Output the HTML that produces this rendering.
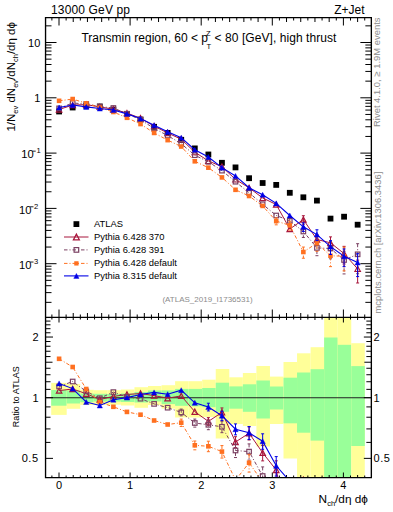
<!DOCTYPE html>
<html><head><meta charset="utf-8"><style>
html,body{margin:0;padding:0;background:#fff;}
body{width:393px;height:512px;position:relative;overflow:hidden;font-family:"Liberation Sans",sans-serif;}
svg{position:absolute;left:0;top:0;}
.t{position:absolute;white-space:nowrap;line-height:1;color:#000;}
</style></head><body>
<svg width="393" height="512" viewBox="0 0 393 512">
<defs><clipPath id="cu"><rect x="45.5" y="17.5" width="326" height="300"/></clipPath><clipPath id="cr"><rect x="45.5" y="317.5" width="326" height="160"/></clipPath></defs>
<g clip-path="url(#cr)">
<rect x="51.20" y="382.90" width="15.50" height="32.00" fill="#ffff99"/>
<rect x="51.20" y="390.00" width="15.50" height="15.70" fill="#99ff99"/>
<rect x="66.70" y="384.00" width="13.55" height="24.80" fill="#ffff99"/>
<rect x="66.70" y="390.50" width="13.55" height="13.00" fill="#99ff99"/>
<rect x="80.25" y="389.80" width="13.55" height="15.20" fill="#ffff99"/>
<rect x="80.25" y="393.50" width="13.55" height="8.70" fill="#99ff99"/>
<rect x="93.80" y="390.20" width="13.55" height="14.60" fill="#ffff99"/>
<rect x="93.80" y="393.80" width="13.55" height="7.70" fill="#99ff99"/>
<rect x="107.35" y="390.20" width="13.55" height="14.50" fill="#ffff99"/>
<rect x="107.35" y="394.00" width="13.55" height="7.60" fill="#99ff99"/>
<rect x="120.90" y="389.50" width="13.55" height="16.00" fill="#ffff99"/>
<rect x="120.90" y="393.50" width="13.55" height="8.50" fill="#99ff99"/>
<rect x="134.45" y="387.20" width="13.55" height="20.60" fill="#ffff99"/>
<rect x="134.45" y="392.00" width="13.55" height="10.50" fill="#99ff99"/>
<rect x="148.00" y="386.00" width="13.55" height="19.00" fill="#ffff99"/>
<rect x="148.00" y="390.50" width="13.55" height="11.00" fill="#99ff99"/>
<rect x="161.55" y="385.20" width="13.55" height="23.40" fill="#ffff99"/>
<rect x="161.55" y="390.40" width="13.55" height="13.70" fill="#99ff99"/>
<rect x="175.10" y="381.20" width="13.55" height="36.30" fill="#ffff99"/>
<rect x="175.10" y="388.90" width="13.55" height="16.90" fill="#99ff99"/>
<rect x="188.65" y="381.20" width="13.55" height="36.30" fill="#ffff99"/>
<rect x="188.65" y="388.90" width="13.55" height="17.40" fill="#99ff99"/>
<rect x="202.20" y="379.70" width="13.55" height="37.30" fill="#ffff99"/>
<rect x="202.20" y="388.00" width="13.55" height="19.20" fill="#99ff99"/>
<rect x="215.75" y="369.00" width="13.55" height="69.50" fill="#ffff99"/>
<rect x="215.75" y="382.70" width="13.55" height="29.10" fill="#99ff99"/>
<rect x="229.30" y="377.30" width="13.55" height="46.70" fill="#ffff99"/>
<rect x="229.30" y="386.40" width="13.55" height="22.30" fill="#99ff99"/>
<rect x="242.85" y="373.00" width="13.55" height="53.00" fill="#ffff99"/>
<rect x="242.85" y="384.30" width="13.55" height="27.50" fill="#99ff99"/>
<rect x="256.40" y="366.00" width="13.55" height="80.50" fill="#ffff99"/>
<rect x="256.40" y="380.50" width="13.55" height="38.00" fill="#99ff99"/>
<rect x="269.95" y="376.60" width="13.55" height="47.40" fill="#ffff99"/>
<rect x="269.95" y="386.50" width="13.55" height="23.00" fill="#99ff99"/>
<rect x="283.50" y="362.00" width="13.55" height="96.50" fill="#ffff99"/>
<rect x="283.50" y="377.70" width="13.55" height="45.60" fill="#99ff99"/>
<rect x="297.05" y="353.30" width="13.55" height="146.70" fill="#ffff99"/>
<rect x="297.05" y="372.50" width="13.55" height="60.20" fill="#99ff99"/>
<rect x="310.60" y="347.20" width="13.55" height="152.80" fill="#ffff99"/>
<rect x="310.60" y="369.20" width="13.55" height="71.40" fill="#99ff99"/>
<rect x="324.15" y="300.00" width="13.55" height="200.00" fill="#ffff99"/>
<rect x="324.15" y="337.50" width="13.55" height="162.50" fill="#99ff99"/>
<rect x="337.70" y="300.00" width="13.55" height="200.00" fill="#ffff99"/>
<rect x="337.70" y="344.80" width="13.55" height="155.20" fill="#99ff99"/>
<rect x="351.25" y="343.20" width="13.55" height="156.80" fill="#ffff99"/>
<rect x="351.25" y="366.10" width="13.55" height="79.90" fill="#99ff99"/>
</g>
<line x1="45.5" y1="397.7" x2="371" y2="397.7" stroke="#222" stroke-width="1.1"/>
<path d="M51.89 17.5v3M51.89 317.5v-3M51.89 317.5v2M51.89 477.5v-2M59.00 17.5v8M59.00 317.5v-8M59.00 317.5v5M59.00 477.5v-5M66.11 17.5v3M66.11 317.5v-3M66.11 317.5v2M66.11 477.5v-2M73.22 17.5v4.5M73.22 317.5v-4.5M73.22 317.5v2.5M73.22 477.5v-2.5M80.33 17.5v3M80.33 317.5v-3M80.33 317.5v2M80.33 477.5v-2M87.44 17.5v4.5M87.44 317.5v-4.5M87.44 317.5v2.5M87.44 477.5v-2.5M94.55 17.5v3M94.55 317.5v-3M94.55 317.5v2M94.55 477.5v-2M101.66 17.5v4.5M101.66 317.5v-4.5M101.66 317.5v2.5M101.66 477.5v-2.5M108.77 17.5v3M108.77 317.5v-3M108.77 317.5v2M108.77 477.5v-2M115.88 17.5v4.5M115.88 317.5v-4.5M115.88 317.5v2.5M115.88 477.5v-2.5M122.99 17.5v3M122.99 317.5v-3M122.99 317.5v2M122.99 477.5v-2M130.10 17.5v8M130.10 317.5v-8M130.10 317.5v5M130.10 477.5v-5M137.21 17.5v3M137.21 317.5v-3M137.21 317.5v2M137.21 477.5v-2M144.32 17.5v4.5M144.32 317.5v-4.5M144.32 317.5v2.5M144.32 477.5v-2.5M151.43 17.5v3M151.43 317.5v-3M151.43 317.5v2M151.43 477.5v-2M158.54 17.5v4.5M158.54 317.5v-4.5M158.54 317.5v2.5M158.54 477.5v-2.5M165.65 17.5v3M165.65 317.5v-3M165.65 317.5v2M165.65 477.5v-2M172.76 17.5v4.5M172.76 317.5v-4.5M172.76 317.5v2.5M172.76 477.5v-2.5M179.87 17.5v3M179.87 317.5v-3M179.87 317.5v2M179.87 477.5v-2M186.98 17.5v4.5M186.98 317.5v-4.5M186.98 317.5v2.5M186.98 477.5v-2.5M194.09 17.5v3M194.09 317.5v-3M194.09 317.5v2M194.09 477.5v-2M201.20 17.5v8M201.20 317.5v-8M201.20 317.5v5M201.20 477.5v-5M208.31 17.5v3M208.31 317.5v-3M208.31 317.5v2M208.31 477.5v-2M215.42 17.5v4.5M215.42 317.5v-4.5M215.42 317.5v2.5M215.42 477.5v-2.5M222.53 17.5v3M222.53 317.5v-3M222.53 317.5v2M222.53 477.5v-2M229.64 17.5v4.5M229.64 317.5v-4.5M229.64 317.5v2.5M229.64 477.5v-2.5M236.75 17.5v3M236.75 317.5v-3M236.75 317.5v2M236.75 477.5v-2M243.86 17.5v4.5M243.86 317.5v-4.5M243.86 317.5v2.5M243.86 477.5v-2.5M250.97 17.5v3M250.97 317.5v-3M250.97 317.5v2M250.97 477.5v-2M258.08 17.5v4.5M258.08 317.5v-4.5M258.08 317.5v2.5M258.08 477.5v-2.5M265.19 17.5v3M265.19 317.5v-3M265.19 317.5v2M265.19 477.5v-2M272.30 17.5v8M272.30 317.5v-8M272.30 317.5v5M272.30 477.5v-5M279.41 17.5v3M279.41 317.5v-3M279.41 317.5v2M279.41 477.5v-2M286.52 17.5v4.5M286.52 317.5v-4.5M286.52 317.5v2.5M286.52 477.5v-2.5M293.63 17.5v3M293.63 317.5v-3M293.63 317.5v2M293.63 477.5v-2M300.74 17.5v4.5M300.74 317.5v-4.5M300.74 317.5v2.5M300.74 477.5v-2.5M307.85 17.5v3M307.85 317.5v-3M307.85 317.5v2M307.85 477.5v-2M314.96 17.5v4.5M314.96 317.5v-4.5M314.96 317.5v2.5M314.96 477.5v-2.5M322.07 17.5v3M322.07 317.5v-3M322.07 317.5v2M322.07 477.5v-2M329.18 17.5v4.5M329.18 317.5v-4.5M329.18 317.5v2.5M329.18 477.5v-2.5M336.29 17.5v3M336.29 317.5v-3M336.29 317.5v2M336.29 477.5v-2M343.40 17.5v8M343.40 317.5v-8M343.40 317.5v5M343.40 477.5v-5M350.51 17.5v3M350.51 317.5v-3M350.51 317.5v2M350.51 477.5v-2M357.62 17.5v4.5M357.62 317.5v-4.5M357.62 317.5v2.5M357.62 477.5v-2.5M364.73 17.5v3M364.73 317.5v-3M364.73 317.5v2M364.73 477.5v-2M45.5 302.35h6M371.35 302.35h-6M45.5 292.62h6M371.35 292.62h-6M45.5 285.71h6M371.35 285.71h-6M45.5 280.35h6M371.35 280.35h-6M45.5 275.97h6M371.35 275.97h-6M45.5 272.27h6M371.35 272.27h-6M45.5 269.06h6M371.35 269.06h-6M45.5 266.23h6M371.35 266.23h-6M45.5 263.70h11M371.35 263.70h-11M45.5 247.05h6M371.35 247.05h-6M45.5 237.32h6M371.35 237.32h-6M45.5 230.41h6M371.35 230.41h-6M45.5 225.05h6M371.35 225.05h-6M45.5 220.67h6M371.35 220.67h-6M45.5 216.97h6M371.35 216.97h-6M45.5 213.76h6M371.35 213.76h-6M45.5 210.93h6M371.35 210.93h-6M45.5 208.40h11M371.35 208.40h-11M45.5 191.75h6M371.35 191.75h-6M45.5 182.02h6M371.35 182.02h-6M45.5 175.11h6M371.35 175.11h-6M45.5 169.75h6M371.35 169.75h-6M45.5 165.37h6M371.35 165.37h-6M45.5 161.67h6M371.35 161.67h-6M45.5 158.46h6M371.35 158.46h-6M45.5 155.63h6M371.35 155.63h-6M45.5 153.10h11M371.35 153.10h-11M45.5 136.45h6M371.35 136.45h-6M45.5 126.72h6M371.35 126.72h-6M45.5 119.81h6M371.35 119.81h-6M45.5 114.45h6M371.35 114.45h-6M45.5 110.07h6M371.35 110.07h-6M45.5 106.37h6M371.35 106.37h-6M45.5 103.16h6M371.35 103.16h-6M45.5 100.33h6M371.35 100.33h-6M45.5 97.80h11M371.35 97.80h-11M45.5 81.15h6M371.35 81.15h-6M45.5 71.42h6M371.35 71.42h-6M45.5 64.51h6M371.35 64.51h-6M45.5 59.15h6M371.35 59.15h-6M45.5 54.77h6M371.35 54.77h-6M45.5 51.07h6M371.35 51.07h-6M45.5 47.86h6M371.35 47.86h-6M45.5 45.03h6M371.35 45.03h-6M45.5 42.50h11M371.35 42.50h-11M45.5 25.85h6M371.35 25.85h-6M45.5 458.36h7.5M371.35 458.36h-7.5M45.5 442.40h5M371.35 442.40h-5M45.5 428.91h5M371.35 428.91h-5M45.5 417.23h5M371.35 417.23h-5M45.5 406.92h5M371.35 406.92h-5M45.5 397.70h7.5M371.35 397.70h-7.5M45.5 389.36h5M371.35 389.36h-5M45.5 381.74h5M371.35 381.74h-5M45.5 374.74h5M371.35 374.74h-5M45.5 368.26h5M371.35 368.26h-5M45.5 362.22h7M371.35 362.22h-7M45.5 356.57h5M371.35 356.57h-5M45.5 351.26h5M371.35 351.26h-5M45.5 346.26h5M371.35 346.26h-5M45.5 341.53h5M371.35 341.53h-5M45.5 337.04h7.5M371.35 337.04h-7.5M45.5 332.77h5M371.35 332.77h-5M45.5 328.70h5M371.35 328.70h-5M45.5 324.81h5M371.35 324.81h-5M45.5 321.09h5M371.35 321.09h-5M45.5 317.52h5M371.35 317.52h-5" stroke="#000" stroke-width="1" fill="none"/>
<g clip-path="url(#cu)">
<rect x="56.20" y="108.60" width="5.8" height="5.8" fill="#000"/>
<rect x="69.77" y="104.60" width="5.8" height="5.8" fill="#000"/>
<rect x="83.34" y="102.90" width="5.8" height="5.8" fill="#000"/>
<rect x="96.91" y="103.60" width="5.8" height="5.8" fill="#000"/>
<rect x="110.48" y="106.70" width="5.8" height="5.8" fill="#000"/>
<rect x="124.05" y="111.10" width="5.8" height="5.8" fill="#000"/>
<rect x="137.62" y="116.60" width="5.8" height="5.8" fill="#000"/>
<rect x="151.19" y="123.90" width="5.8" height="5.8" fill="#000"/>
<rect x="164.76" y="130.00" width="5.8" height="5.8" fill="#000"/>
<rect x="178.33" y="136.90" width="5.8" height="5.8" fill="#000"/>
<rect x="191.90" y="145.50" width="5.8" height="5.8" fill="#000"/>
<rect x="205.47" y="151.60" width="5.8" height="5.8" fill="#000"/>
<rect x="219.04" y="159.90" width="5.8" height="5.8" fill="#000"/>
<rect x="232.61" y="164.50" width="5.8" height="5.8" fill="#000"/>
<rect x="246.18" y="175.30" width="5.8" height="5.8" fill="#000"/>
<rect x="259.75" y="180.10" width="5.8" height="5.8" fill="#000"/>
<rect x="273.32" y="182.00" width="5.8" height="5.8" fill="#000"/>
<rect x="286.89" y="189.90" width="5.8" height="5.8" fill="#000"/>
<rect x="300.46" y="194.40" width="5.8" height="5.8" fill="#000"/>
<rect x="314.03" y="197.70" width="5.8" height="5.8" fill="#000"/>
<rect x="327.60" y="215.70" width="5.8" height="5.8" fill="#000"/>
<rect x="341.17" y="213.80" width="5.8" height="5.8" fill="#000"/>
<rect x="354.74" y="221.80" width="5.8" height="5.8" fill="#000"/>
<polyline points="59.10,109.48 72.67,105.05 86.24,104.63 99.81,106.91 113.38,109.16 126.95,113.05 140.52,118.27 154.09,126.15 167.66,132.95 181.23,139.23 194.80,152.14 208.37,160.88 221.94,166.73 235.51,179.40 249.08,187.80 262.65,197.94 276.22,204.53 289.79,229.00 303.36,219.60 316.93,239.50 330.50,242.80 344.07,253.60 357.64,268.90" fill="none" stroke="#a8163c" stroke-width="1.0"/>


















<path d="M303.36 215.71V224.25" stroke="#a8163c" stroke-width="1" fill="none"/><path d="M301.86 215.71h3.0M301.86 224.25h3.0" stroke="#a8163c" stroke-width="1" fill="none"/>
<path d="M316.93 234.69V245.52" stroke="#a8163c" stroke-width="1" fill="none"/><path d="M315.43 234.69h3.0M315.43 245.52h3.0" stroke="#a8163c" stroke-width="1" fill="none"/>
<path d="M330.50 236.88V250.67" stroke="#a8163c" stroke-width="1" fill="none"/><path d="M329.00 236.88h3.0M329.00 250.67h3.0" stroke="#a8163c" stroke-width="1" fill="none"/>
<path d="M344.07 246.35V264.02" stroke="#a8163c" stroke-width="1" fill="none"/><path d="M342.57 246.35h3.0M342.57 264.02h3.0" stroke="#a8163c" stroke-width="1" fill="none"/>
<path d="M357.64 260.08V282.98" stroke="#a8163c" stroke-width="1" fill="none"/><path d="M356.14 260.08h3.0M356.14 282.98h3.0" stroke="#a8163c" stroke-width="1" fill="none"/>
<path d="M56.35 112.09L59.10 106.87L61.85 112.09Z" fill="none" stroke="#a8163c" stroke-width="1.2"/>
<path d="M69.92 107.66L72.67 102.43L75.42 107.66Z" fill="none" stroke="#a8163c" stroke-width="1.2"/>
<path d="M83.49 107.24L86.24 102.01L88.99 107.24Z" fill="none" stroke="#a8163c" stroke-width="1.2"/>
<path d="M97.06 109.52L99.81 104.30L102.56 109.52Z" fill="none" stroke="#a8163c" stroke-width="1.2"/>
<path d="M110.63 111.78L113.38 106.55L116.13 111.78Z" fill="none" stroke="#a8163c" stroke-width="1.2"/>
<path d="M124.20 115.66L126.95 110.43L129.70 115.66Z" fill="none" stroke="#a8163c" stroke-width="1.2"/>
<path d="M137.77 120.89L140.52 115.66L143.27 120.89Z" fill="none" stroke="#a8163c" stroke-width="1.2"/>
<path d="M151.34 128.76L154.09 123.53L156.84 128.76Z" fill="none" stroke="#a8163c" stroke-width="1.2"/>
<path d="M164.91 135.57L167.66 130.34L170.41 135.57Z" fill="none" stroke="#a8163c" stroke-width="1.2"/>
<path d="M178.48 141.84L181.23 136.61L183.98 141.84Z" fill="none" stroke="#a8163c" stroke-width="1.2"/>
<path d="M192.05 154.75L194.80 149.52L197.55 154.75Z" fill="none" stroke="#a8163c" stroke-width="1.2"/>
<path d="M205.62 163.49L208.37 158.27L211.12 163.49Z" fill="none" stroke="#a8163c" stroke-width="1.2"/>
<path d="M219.19 169.34L221.94 164.11L224.69 169.34Z" fill="none" stroke="#a8163c" stroke-width="1.2"/>
<path d="M232.76 182.01L235.51 176.79L238.26 182.01Z" fill="none" stroke="#a8163c" stroke-width="1.2"/>
<path d="M246.33 190.41L249.08 185.19L251.83 190.41Z" fill="none" stroke="#a8163c" stroke-width="1.2"/>
<path d="M259.90 200.56L262.65 195.33L265.40 200.56Z" fill="none" stroke="#a8163c" stroke-width="1.2"/>
<path d="M273.47 207.15L276.22 201.92L278.97 207.15Z" fill="none" stroke="#a8163c" stroke-width="1.2"/>
<path d="M287.04 231.61L289.79 226.39L292.54 231.61Z" fill="none" stroke="#a8163c" stroke-width="1.2"/>
<path d="M300.61 222.21L303.36 216.99L306.11 222.21Z" fill="none" stroke="#a8163c" stroke-width="1.2"/>
<path d="M314.18 242.11L316.93 236.89L319.68 242.11Z" fill="none" stroke="#a8163c" stroke-width="1.2"/>
<path d="M327.75 245.41L330.50 240.19L333.25 245.41Z" fill="none" stroke="#a8163c" stroke-width="1.2"/>
<path d="M341.32 256.21L344.07 250.99L346.82 256.21Z" fill="none" stroke="#a8163c" stroke-width="1.2"/>
<path d="M354.89 271.51L357.64 266.29L360.39 271.51Z" fill="none" stroke="#a8163c" stroke-width="1.2"/>
<polyline points="59.10,108.36 72.67,103.00 86.24,104.00 99.81,106.55 113.38,107.99 126.95,113.73 140.52,119.69 154.09,128.41 167.66,135.55 181.23,143.73 194.80,155.22 208.37,161.81 221.94,170.65 235.51,181.72 249.08,192.82 262.65,204.27 276.22,215.50 289.79,220.80 303.36,231.50 316.93,247.90 330.50,248.50 344.07,260.00 357.64,254.30" fill="none" stroke="#7b4062" stroke-width="1.0" stroke-dasharray="3.5,2,1,2"/>

















<path d="M289.79 216.93V225.41" stroke="#7b4062" stroke-width="1" fill="none" stroke-dasharray="3.5,2,1,2"/><path d="M288.29 216.93h3.0M288.29 225.41h3.0" stroke="#7b4062" stroke-width="1" fill="none"/>
<path d="M303.36 226.72V237.47" stroke="#7b4062" stroke-width="1" fill="none" stroke-dasharray="3.5,2,1,2"/><path d="M301.86 226.72h3.0M301.86 237.47h3.0" stroke="#7b4062" stroke-width="1" fill="none"/>
<path d="M316.93 242.02V255.70" stroke="#7b4062" stroke-width="1" fill="none" stroke-dasharray="3.5,2,1,2"/><path d="M315.43 242.02h3.0M315.43 255.70h3.0" stroke="#7b4062" stroke-width="1" fill="none"/>
<path d="M330.50 241.30V258.82" stroke="#7b4062" stroke-width="1" fill="none" stroke-dasharray="3.5,2,1,2"/><path d="M329.00 241.30h3.0M329.00 258.82h3.0" stroke="#7b4062" stroke-width="1" fill="none"/>
<path d="M344.07 251.24V273.93" stroke="#7b4062" stroke-width="1" fill="none" stroke-dasharray="3.5,2,1,2"/><path d="M342.57 251.24h3.0M342.57 273.93h3.0" stroke="#7b4062" stroke-width="1" fill="none"/>
<path d="M357.64 243.70V273.72" stroke="#7b4062" stroke-width="1" fill="none" stroke-dasharray="3.5,2,1,2"/><path d="M356.14 243.70h3.0M356.14 273.72h3.0" stroke="#7b4062" stroke-width="1" fill="none"/>
<rect x="56.85" y="106.11" width="4.5" height="4.5" fill="none" stroke="#7b4062" stroke-width="1.2"/>
<rect x="70.42" y="100.75" width="4.5" height="4.5" fill="none" stroke="#7b4062" stroke-width="1.2"/>
<rect x="83.99" y="101.75" width="4.5" height="4.5" fill="none" stroke="#7b4062" stroke-width="1.2"/>
<rect x="97.56" y="104.30" width="4.5" height="4.5" fill="none" stroke="#7b4062" stroke-width="1.2"/>
<rect x="111.13" y="105.74" width="4.5" height="4.5" fill="none" stroke="#7b4062" stroke-width="1.2"/>
<rect x="124.70" y="111.48" width="4.5" height="4.5" fill="none" stroke="#7b4062" stroke-width="1.2"/>
<rect x="138.27" y="117.44" width="4.5" height="4.5" fill="none" stroke="#7b4062" stroke-width="1.2"/>
<rect x="151.84" y="126.16" width="4.5" height="4.5" fill="none" stroke="#7b4062" stroke-width="1.2"/>
<rect x="165.41" y="133.30" width="4.5" height="4.5" fill="none" stroke="#7b4062" stroke-width="1.2"/>
<rect x="178.98" y="141.48" width="4.5" height="4.5" fill="none" stroke="#7b4062" stroke-width="1.2"/>
<rect x="192.55" y="152.97" width="4.5" height="4.5" fill="none" stroke="#7b4062" stroke-width="1.2"/>
<rect x="206.12" y="159.56" width="4.5" height="4.5" fill="none" stroke="#7b4062" stroke-width="1.2"/>
<rect x="219.69" y="168.40" width="4.5" height="4.5" fill="none" stroke="#7b4062" stroke-width="1.2"/>
<rect x="233.26" y="179.47" width="4.5" height="4.5" fill="none" stroke="#7b4062" stroke-width="1.2"/>
<rect x="246.83" y="190.57" width="4.5" height="4.5" fill="none" stroke="#7b4062" stroke-width="1.2"/>
<rect x="260.40" y="202.02" width="4.5" height="4.5" fill="none" stroke="#7b4062" stroke-width="1.2"/>
<rect x="273.97" y="213.25" width="4.5" height="4.5" fill="none" stroke="#7b4062" stroke-width="1.2"/>
<rect x="287.54" y="218.55" width="4.5" height="4.5" fill="none" stroke="#7b4062" stroke-width="1.2"/>
<rect x="301.11" y="229.25" width="4.5" height="4.5" fill="none" stroke="#7b4062" stroke-width="1.2"/>
<rect x="314.68" y="245.65" width="4.5" height="4.5" fill="none" stroke="#7b4062" stroke-width="1.2"/>
<rect x="328.25" y="246.25" width="4.5" height="4.5" fill="none" stroke="#7b4062" stroke-width="1.2"/>
<rect x="341.82" y="257.75" width="4.5" height="4.5" fill="none" stroke="#7b4062" stroke-width="1.2"/>
<rect x="355.39" y="252.05" width="4.5" height="4.5" fill="none" stroke="#7b4062" stroke-width="1.2"/>
<polyline points="59.10,100.81 72.67,99.05 86.24,103.35 99.81,107.65 113.38,112.00 126.95,117.79 140.52,124.05 154.09,132.94 167.66,140.13 181.23,146.54 194.80,161.30 208.37,167.67 221.94,177.42 235.51,189.80 249.08,196.00 262.65,205.90 276.22,221.10 289.79,225.30 303.36,252.00 316.93,243.10 330.50,255.80 344.07,256.20" fill="none" stroke="#ff7020" stroke-width="1.0" stroke-dasharray="3.5,2,1,2"/>
















<path d="M276.22 217.87V224.84" stroke="#ff7020" stroke-width="1" fill="none" stroke-dasharray="3.5,2,1,2"/><path d="M274.72 217.87h3.0M274.72 224.84h3.0" stroke="#ff7020" stroke-width="1" fill="none"/>
<path d="M289.79 221.29V230.11" stroke="#ff7020" stroke-width="1" fill="none" stroke-dasharray="3.5,2,1,2"/><path d="M288.29 221.29h3.0M288.29 230.11h3.0" stroke="#ff7020" stroke-width="1" fill="none"/>
<path d="M303.36 247.05V258.24" stroke="#ff7020" stroke-width="1" fill="none" stroke-dasharray="3.5,2,1,2"/><path d="M301.86 247.05h3.0M301.86 258.24h3.0" stroke="#ff7020" stroke-width="1" fill="none"/>
<path d="M316.93 237.02V251.27" stroke="#ff7020" stroke-width="1" fill="none" stroke-dasharray="3.5,2,1,2"/><path d="M315.43 237.02h3.0M315.43 251.27h3.0" stroke="#ff7020" stroke-width="1" fill="none"/>
<path d="M330.50 248.36V266.64" stroke="#ff7020" stroke-width="1" fill="none" stroke-dasharray="3.5,2,1,2"/><path d="M329.00 248.36h3.0M329.00 266.64h3.0" stroke="#ff7020" stroke-width="1" fill="none"/>
<path d="M344.07 247.15V270.90" stroke="#ff7020" stroke-width="1" fill="none" stroke-dasharray="3.5,2,1,2"/><path d="M342.57 247.15h3.0M342.57 270.90h3.0" stroke="#ff7020" stroke-width="1" fill="none"/>
<rect x="56.80" y="98.51" width="4.6" height="4.6" fill="#ff7020" stroke="#ff7020" stroke-width="0"/>
<rect x="70.37" y="96.75" width="4.6" height="4.6" fill="#ff7020" stroke="#ff7020" stroke-width="0"/>
<rect x="83.94" y="101.05" width="4.6" height="4.6" fill="#ff7020" stroke="#ff7020" stroke-width="0"/>
<rect x="97.51" y="105.35" width="4.6" height="4.6" fill="#ff7020" stroke="#ff7020" stroke-width="0"/>
<rect x="111.08" y="109.70" width="4.6" height="4.6" fill="#ff7020" stroke="#ff7020" stroke-width="0"/>
<rect x="124.65" y="115.49" width="4.6" height="4.6" fill="#ff7020" stroke="#ff7020" stroke-width="0"/>
<rect x="138.22" y="121.75" width="4.6" height="4.6" fill="#ff7020" stroke="#ff7020" stroke-width="0"/>
<rect x="151.79" y="130.64" width="4.6" height="4.6" fill="#ff7020" stroke="#ff7020" stroke-width="0"/>
<rect x="165.36" y="137.83" width="4.6" height="4.6" fill="#ff7020" stroke="#ff7020" stroke-width="0"/>
<rect x="178.93" y="144.24" width="4.6" height="4.6" fill="#ff7020" stroke="#ff7020" stroke-width="0"/>
<rect x="192.50" y="159.00" width="4.6" height="4.6" fill="#ff7020" stroke="#ff7020" stroke-width="0"/>
<rect x="206.07" y="165.37" width="4.6" height="4.6" fill="#ff7020" stroke="#ff7020" stroke-width="0"/>
<rect x="219.64" y="175.12" width="4.6" height="4.6" fill="#ff7020" stroke="#ff7020" stroke-width="0"/>
<rect x="233.21" y="187.50" width="4.6" height="4.6" fill="#ff7020" stroke="#ff7020" stroke-width="0"/>
<rect x="246.78" y="193.70" width="4.6" height="4.6" fill="#ff7020" stroke="#ff7020" stroke-width="0"/>
<rect x="260.35" y="203.60" width="4.6" height="4.6" fill="#ff7020" stroke="#ff7020" stroke-width="0"/>
<rect x="273.92" y="218.80" width="4.6" height="4.6" fill="#ff7020" stroke="#ff7020" stroke-width="0"/>
<rect x="287.49" y="223.00" width="4.6" height="4.6" fill="#ff7020" stroke="#ff7020" stroke-width="0"/>
<rect x="301.06" y="249.70" width="4.6" height="4.6" fill="#ff7020" stroke="#ff7020" stroke-width="0"/>
<rect x="314.63" y="240.80" width="4.6" height="4.6" fill="#ff7020" stroke="#ff7020" stroke-width="0"/>
<rect x="328.20" y="253.50" width="4.6" height="4.6" fill="#ff7020" stroke="#ff7020" stroke-width="0"/>
<rect x="341.77" y="253.90" width="4.6" height="4.6" fill="#ff7020" stroke="#ff7020" stroke-width="0"/>
<polyline points="59.10,107.52 72.67,104.94 86.24,106.89 99.81,108.55 113.38,110.06 126.95,113.89 140.52,118.55 154.09,125.27 167.66,131.86 181.23,137.67 194.80,149.71 208.37,156.95 221.94,167.63 235.51,175.91 249.08,187.69 262.65,194.78 276.22,203.39 289.79,215.50 303.36,226.80 316.93,234.60 330.50,246.60 344.07,256.20 357.64,262.50" fill="none" stroke="#0000e6" stroke-width="1.1"/>


















<path d="M303.36 222.91V231.45" stroke="#0000e6" stroke-width="1" fill="none"/><path d="M301.86 222.91h3.0M301.86 231.45h3.0" stroke="#0000e6" stroke-width="1" fill="none"/>
<path d="M316.93 229.79V240.62" stroke="#0000e6" stroke-width="1" fill="none"/><path d="M315.43 229.79h3.0M315.43 240.62h3.0" stroke="#0000e6" stroke-width="1" fill="none"/>
<path d="M330.50 240.68V254.47" stroke="#0000e6" stroke-width="1" fill="none"/><path d="M329.00 240.68h3.0M329.00 254.47h3.0" stroke="#0000e6" stroke-width="1" fill="none"/>
<path d="M344.07 248.95V266.62" stroke="#0000e6" stroke-width="1" fill="none"/><path d="M342.57 248.95h3.0M342.57 266.62h3.0" stroke="#0000e6" stroke-width="1" fill="none"/>
<path d="M357.64 253.68V276.58" stroke="#0000e6" stroke-width="1" fill="none"/><path d="M356.14 253.68h3.0M356.14 276.58h3.0" stroke="#0000e6" stroke-width="1" fill="none"/>
<path d="M56.45 110.04L59.10 105.00L61.75 110.04Z" fill="#0000e6" stroke="#0000e6" stroke-width="0.4"/>
<path d="M70.02 107.45L72.67 102.42L75.32 107.45Z" fill="#0000e6" stroke="#0000e6" stroke-width="0.4"/>
<path d="M83.59 109.41L86.24 104.37L88.89 109.41Z" fill="#0000e6" stroke="#0000e6" stroke-width="0.4"/>
<path d="M97.16 111.06L99.81 106.03L102.46 111.06Z" fill="#0000e6" stroke="#0000e6" stroke-width="0.4"/>
<path d="M110.73 112.58L113.38 107.55L116.03 112.58Z" fill="#0000e6" stroke="#0000e6" stroke-width="0.4"/>
<path d="M124.30 116.41L126.95 111.37L129.60 116.41Z" fill="#0000e6" stroke="#0000e6" stroke-width="0.4"/>
<path d="M137.87 121.06L140.52 116.03L143.17 121.06Z" fill="#0000e6" stroke="#0000e6" stroke-width="0.4"/>
<path d="M151.44 127.79L154.09 122.76L156.74 127.79Z" fill="#0000e6" stroke="#0000e6" stroke-width="0.4"/>
<path d="M165.01 134.38L167.66 129.35L170.31 134.38Z" fill="#0000e6" stroke="#0000e6" stroke-width="0.4"/>
<path d="M178.58 140.19L181.23 135.16L183.88 140.19Z" fill="#0000e6" stroke="#0000e6" stroke-width="0.4"/>
<path d="M192.15 152.23L194.80 147.19L197.45 152.23Z" fill="#0000e6" stroke="#0000e6" stroke-width="0.4"/>
<path d="M205.72 159.47L208.37 154.44L211.02 159.47Z" fill="#0000e6" stroke="#0000e6" stroke-width="0.4"/>
<path d="M219.29 170.14L221.94 165.11L224.59 170.14Z" fill="#0000e6" stroke="#0000e6" stroke-width="0.4"/>
<path d="M232.86 178.43L235.51 173.39L238.16 178.43Z" fill="#0000e6" stroke="#0000e6" stroke-width="0.4"/>
<path d="M246.43 190.21L249.08 185.17L251.73 190.21Z" fill="#0000e6" stroke="#0000e6" stroke-width="0.4"/>
<path d="M260.00 197.30L262.65 192.26L265.30 197.30Z" fill="#0000e6" stroke="#0000e6" stroke-width="0.4"/>
<path d="M273.57 205.91L276.22 200.87L278.87 205.91Z" fill="#0000e6" stroke="#0000e6" stroke-width="0.4"/>
<path d="M287.14 218.02L289.79 212.98L292.44 218.02Z" fill="#0000e6" stroke="#0000e6" stroke-width="0.4"/>
<path d="M300.71 229.32L303.36 224.28L306.01 229.32Z" fill="#0000e6" stroke="#0000e6" stroke-width="0.4"/>
<path d="M314.28 237.12L316.93 232.08L319.58 237.12Z" fill="#0000e6" stroke="#0000e6" stroke-width="0.4"/>
<path d="M327.85 249.12L330.50 244.08L333.15 249.12Z" fill="#0000e6" stroke="#0000e6" stroke-width="0.4"/>
<path d="M341.42 258.72L344.07 253.68L346.72 258.72Z" fill="#0000e6" stroke="#0000e6" stroke-width="0.4"/>
<path d="M354.99 265.02L357.64 259.98L360.29 265.02Z" fill="#0000e6" stroke="#0000e6" stroke-width="0.4"/>
</g>
<g clip-path="url(#cr)">
<polyline points="59.10,390.60 72.67,389.00 86.24,393.70 99.81,399.50 113.38,396.40 126.95,394.50 140.52,393.50 154.09,395.60 167.66,398.20 181.23,395.90 194.80,411.70 208.37,421.40 221.94,412.40 235.51,442.00 249.08,433.20 262.65,452.80 276.22,470.00 289.79,530.74 303.36,479.77 316.93,540.65 330.50,486.74 344.07,533.31 357.64,560.08" fill="none" stroke="#a8163c" stroke-width="1.0"/>











<path d="M208.37 417.63V425.34" stroke="#a8163c" stroke-width="1" fill="none"/><path d="M206.87 417.63h3.0M206.87 425.34h3.0" stroke="#a8163c" stroke-width="1" fill="none"/>
<path d="M221.94 407.93V417.11" stroke="#a8163c" stroke-width="1" fill="none"/><path d="M220.44 407.93h3.0M220.44 417.11h3.0" stroke="#a8163c" stroke-width="1" fill="none"/>
<path d="M235.51 436.71V447.63" stroke="#a8163c" stroke-width="1" fill="none"/><path d="M234.01 436.71h3.0M234.01 447.63h3.0" stroke="#a8163c" stroke-width="1" fill="none"/>
<path d="M249.08 426.94V439.95" stroke="#a8163c" stroke-width="1" fill="none"/><path d="M247.58 426.94h3.0M247.58 439.95h3.0" stroke="#a8163c" stroke-width="1" fill="none"/>
<path d="M262.65 445.40V460.89" stroke="#a8163c" stroke-width="1" fill="none"/><path d="M261.15 445.40h3.0M261.15 460.89h3.0" stroke="#a8163c" stroke-width="1" fill="none"/>
<path d="M276.22 460.80V480.28" stroke="#a8163c" stroke-width="1" fill="none"/><path d="M274.72 460.80h3.0M274.72 480.28h3.0" stroke="#a8163c" stroke-width="1" fill="none"/>
<path d="M56.35 393.21L59.10 387.99L61.85 393.21Z" fill="none" stroke="#a8163c" stroke-width="1.2"/>
<path d="M69.92 391.61L72.67 386.39L75.42 391.61Z" fill="none" stroke="#a8163c" stroke-width="1.2"/>
<path d="M83.49 396.31L86.24 391.09L88.99 396.31Z" fill="none" stroke="#a8163c" stroke-width="1.2"/>
<path d="M97.06 402.11L99.81 396.89L102.56 402.11Z" fill="none" stroke="#a8163c" stroke-width="1.2"/>
<path d="M110.63 399.01L113.38 393.79L116.13 399.01Z" fill="none" stroke="#a8163c" stroke-width="1.2"/>
<path d="M124.20 397.11L126.95 391.89L129.70 397.11Z" fill="none" stroke="#a8163c" stroke-width="1.2"/>
<path d="M137.77 396.11L140.52 390.89L143.27 396.11Z" fill="none" stroke="#a8163c" stroke-width="1.2"/>
<path d="M151.34 398.21L154.09 392.99L156.84 398.21Z" fill="none" stroke="#a8163c" stroke-width="1.2"/>
<path d="M164.91 400.81L167.66 395.59L170.41 400.81Z" fill="none" stroke="#a8163c" stroke-width="1.2"/>
<path d="M178.48 398.51L181.23 393.29L183.98 398.51Z" fill="none" stroke="#a8163c" stroke-width="1.2"/>
<path d="M192.05 414.31L194.80 409.09L197.55 414.31Z" fill="none" stroke="#a8163c" stroke-width="1.2"/>
<path d="M205.62 424.01L208.37 418.79L211.12 424.01Z" fill="none" stroke="#a8163c" stroke-width="1.2"/>
<path d="M219.19 415.01L221.94 409.79L224.69 415.01Z" fill="none" stroke="#a8163c" stroke-width="1.2"/>
<path d="M232.76 444.61L235.51 439.39L238.26 444.61Z" fill="none" stroke="#a8163c" stroke-width="1.2"/>
<path d="M246.33 435.81L249.08 430.59L251.83 435.81Z" fill="none" stroke="#a8163c" stroke-width="1.2"/>
<path d="M259.90 455.41L262.65 450.19L265.40 455.41Z" fill="none" stroke="#a8163c" stroke-width="1.2"/>
<path d="M273.47 472.61L276.22 467.39L278.97 472.61Z" fill="none" stroke="#a8163c" stroke-width="1.2"/>
<path d="M287.04 533.36L289.79 528.13L292.54 533.36Z" fill="none" stroke="#a8163c" stroke-width="1.2"/>
<path d="M300.61 482.39L303.36 477.16L306.11 482.39Z" fill="none" stroke="#a8163c" stroke-width="1.2"/>
<path d="M314.18 543.26L316.93 538.03L319.68 543.26Z" fill="none" stroke="#a8163c" stroke-width="1.2"/>
<path d="M327.75 489.35L330.50 484.13L333.25 489.35Z" fill="none" stroke="#a8163c" stroke-width="1.2"/>
<path d="M341.32 535.92L344.07 530.70L346.82 535.92Z" fill="none" stroke="#a8163c" stroke-width="1.2"/>
<path d="M354.89 562.69L357.64 557.47L360.39 562.69Z" fill="none" stroke="#a8163c" stroke-width="1.2"/>
<polyline points="59.10,386.50 72.67,381.50 86.24,391.40 99.81,398.20 113.38,392.10 126.95,397.00 140.52,398.70 154.09,403.90 167.66,407.70 181.23,412.40 194.80,423.00 208.37,424.80 221.94,426.80 235.51,450.50 249.08,451.60 262.65,476.00 276.22,510.21 289.79,500.68 303.36,523.41 316.93,571.45 330.50,507.64 344.07,556.78 357.64,506.54" fill="none" stroke="#7b4062" stroke-width="1.0" stroke-dasharray="3.5,2,1,2"/>









<path d="M181.23 409.09V415.84" stroke="#7b4062" stroke-width="1" fill="none" stroke-dasharray="3.5,2,1,2"/><path d="M179.73 409.09h3.0M179.73 415.84h3.0" stroke="#7b4062" stroke-width="1" fill="none"/>
<path d="M194.80 419.07V427.11" stroke="#7b4062" stroke-width="1" fill="none" stroke-dasharray="3.5,2,1,2"/><path d="M193.30 419.07h3.0M193.30 427.11h3.0" stroke="#7b4062" stroke-width="1" fill="none"/>
<path d="M208.37 420.15V429.71" stroke="#7b4062" stroke-width="1" fill="none" stroke-dasharray="3.5,2,1,2"/><path d="M206.87 420.15h3.0M206.87 429.71h3.0" stroke="#7b4062" stroke-width="1" fill="none"/>
<path d="M221.94 421.29V432.68" stroke="#7b4062" stroke-width="1" fill="none" stroke-dasharray="3.5,2,1,2"/><path d="M220.44 421.29h3.0M220.44 432.68h3.0" stroke="#7b4062" stroke-width="1" fill="none"/>
<path d="M235.51 443.98V457.54" stroke="#7b4062" stroke-width="1" fill="none" stroke-dasharray="3.5,2,1,2"/><path d="M234.01 443.98h3.0M234.01 457.54h3.0" stroke="#7b4062" stroke-width="1" fill="none"/>
<path d="M249.08 443.90V460.05" stroke="#7b4062" stroke-width="1" fill="none" stroke-dasharray="3.5,2,1,2"/><path d="M247.58 443.90h3.0M247.58 460.05h3.0" stroke="#7b4062" stroke-width="1" fill="none"/>
<path d="M262.65 466.91V486.15" stroke="#7b4062" stroke-width="1" fill="none" stroke-dasharray="3.5,2,1,2"/><path d="M261.15 466.91h3.0M261.15 486.15h3.0" stroke="#7b4062" stroke-width="1" fill="none"/>
<rect x="56.85" y="384.25" width="4.5" height="4.5" fill="none" stroke="#7b4062" stroke-width="1.2"/>
<rect x="70.42" y="379.25" width="4.5" height="4.5" fill="none" stroke="#7b4062" stroke-width="1.2"/>
<rect x="83.99" y="389.15" width="4.5" height="4.5" fill="none" stroke="#7b4062" stroke-width="1.2"/>
<rect x="97.56" y="395.95" width="4.5" height="4.5" fill="none" stroke="#7b4062" stroke-width="1.2"/>
<rect x="111.13" y="389.85" width="4.5" height="4.5" fill="none" stroke="#7b4062" stroke-width="1.2"/>
<rect x="124.70" y="394.75" width="4.5" height="4.5" fill="none" stroke="#7b4062" stroke-width="1.2"/>
<rect x="138.27" y="396.45" width="4.5" height="4.5" fill="none" stroke="#7b4062" stroke-width="1.2"/>
<rect x="151.84" y="401.65" width="4.5" height="4.5" fill="none" stroke="#7b4062" stroke-width="1.2"/>
<rect x="165.41" y="405.45" width="4.5" height="4.5" fill="none" stroke="#7b4062" stroke-width="1.2"/>
<rect x="178.98" y="410.15" width="4.5" height="4.5" fill="none" stroke="#7b4062" stroke-width="1.2"/>
<rect x="192.55" y="420.75" width="4.5" height="4.5" fill="none" stroke="#7b4062" stroke-width="1.2"/>
<rect x="206.12" y="422.55" width="4.5" height="4.5" fill="none" stroke="#7b4062" stroke-width="1.2"/>
<rect x="219.69" y="424.55" width="4.5" height="4.5" fill="none" stroke="#7b4062" stroke-width="1.2"/>
<rect x="233.26" y="448.25" width="4.5" height="4.5" fill="none" stroke="#7b4062" stroke-width="1.2"/>
<rect x="246.83" y="449.35" width="4.5" height="4.5" fill="none" stroke="#7b4062" stroke-width="1.2"/>
<rect x="260.40" y="473.75" width="4.5" height="4.5" fill="none" stroke="#7b4062" stroke-width="1.2"/>
<rect x="273.97" y="507.96" width="4.5" height="4.5" fill="none" stroke="#7b4062" stroke-width="1.2"/>
<rect x="287.54" y="498.43" width="4.5" height="4.5" fill="none" stroke="#7b4062" stroke-width="1.2"/>
<rect x="301.11" y="521.16" width="4.5" height="4.5" fill="none" stroke="#7b4062" stroke-width="1.2"/>
<rect x="314.68" y="569.20" width="4.5" height="4.5" fill="none" stroke="#7b4062" stroke-width="1.2"/>
<rect x="328.25" y="505.39" width="4.5" height="4.5" fill="none" stroke="#7b4062" stroke-width="1.2"/>
<rect x="341.82" y="554.53" width="4.5" height="4.5" fill="none" stroke="#7b4062" stroke-width="1.2"/>
<rect x="355.39" y="504.29" width="4.5" height="4.5" fill="none" stroke="#7b4062" stroke-width="1.2"/>
<polyline points="59.10,358.80 72.67,367.00 86.24,389.00 99.81,402.20 113.38,406.80 126.95,411.90 140.52,414.70 154.09,420.50 167.66,424.50 181.23,422.70 194.80,445.30 208.37,446.30 221.94,451.60 235.51,480.14 249.08,462.80 262.65,481.97 276.22,530.74 289.79,517.18 303.36,598.58 316.93,553.85 330.50,534.41 344.07,542.85" fill="none" stroke="#ff7020" stroke-width="1.0" stroke-dasharray="3.5,2,1,2"/>









<path d="M181.23 419.08V426.48" stroke="#ff7020" stroke-width="1" fill="none" stroke-dasharray="3.5,2,1,2"/><path d="M179.73 419.08h3.0M179.73 426.48h3.0" stroke="#ff7020" stroke-width="1" fill="none"/>
<path d="M194.80 441.00V449.82" stroke="#ff7020" stroke-width="1" fill="none" stroke-dasharray="3.5,2,1,2"/><path d="M193.30 441.00h3.0M193.30 449.82h3.0" stroke="#ff7020" stroke-width="1" fill="none"/>
<path d="M208.37 441.21V451.70" stroke="#ff7020" stroke-width="1" fill="none" stroke-dasharray="3.5,2,1,2"/><path d="M206.87 441.21h3.0M206.87 451.70h3.0" stroke="#ff7020" stroke-width="1" fill="none"/>
<path d="M221.94 445.58V458.07" stroke="#ff7020" stroke-width="1" fill="none" stroke-dasharray="3.5,2,1,2"/><path d="M220.44 445.58h3.0M220.44 458.07h3.0" stroke="#ff7020" stroke-width="1" fill="none"/>
<path d="M249.08 454.39V472.11" stroke="#ff7020" stroke-width="1" fill="none" stroke-dasharray="3.5,2,1,2"/><path d="M247.58 454.39h3.0M247.58 472.11h3.0" stroke="#ff7020" stroke-width="1" fill="none"/>
<rect x="56.80" y="356.50" width="4.6" height="4.6" fill="#ff7020" stroke="#ff7020" stroke-width="0"/>
<rect x="70.37" y="364.70" width="4.6" height="4.6" fill="#ff7020" stroke="#ff7020" stroke-width="0"/>
<rect x="83.94" y="386.70" width="4.6" height="4.6" fill="#ff7020" stroke="#ff7020" stroke-width="0"/>
<rect x="97.51" y="399.90" width="4.6" height="4.6" fill="#ff7020" stroke="#ff7020" stroke-width="0"/>
<rect x="111.08" y="404.50" width="4.6" height="4.6" fill="#ff7020" stroke="#ff7020" stroke-width="0"/>
<rect x="124.65" y="409.60" width="4.6" height="4.6" fill="#ff7020" stroke="#ff7020" stroke-width="0"/>
<rect x="138.22" y="412.40" width="4.6" height="4.6" fill="#ff7020" stroke="#ff7020" stroke-width="0"/>
<rect x="151.79" y="418.20" width="4.6" height="4.6" fill="#ff7020" stroke="#ff7020" stroke-width="0"/>
<rect x="165.36" y="422.20" width="4.6" height="4.6" fill="#ff7020" stroke="#ff7020" stroke-width="0"/>
<rect x="178.93" y="420.40" width="4.6" height="4.6" fill="#ff7020" stroke="#ff7020" stroke-width="0"/>
<rect x="192.50" y="443.00" width="4.6" height="4.6" fill="#ff7020" stroke="#ff7020" stroke-width="0"/>
<rect x="206.07" y="444.00" width="4.6" height="4.6" fill="#ff7020" stroke="#ff7020" stroke-width="0"/>
<rect x="219.64" y="449.30" width="4.6" height="4.6" fill="#ff7020" stroke="#ff7020" stroke-width="0"/>
<rect x="233.21" y="477.84" width="4.6" height="4.6" fill="#ff7020" stroke="#ff7020" stroke-width="0"/>
<rect x="246.78" y="460.50" width="4.6" height="4.6" fill="#ff7020" stroke="#ff7020" stroke-width="0"/>
<rect x="260.35" y="479.67" width="4.6" height="4.6" fill="#ff7020" stroke="#ff7020" stroke-width="0"/>
<rect x="273.92" y="528.44" width="4.6" height="4.6" fill="#ff7020" stroke="#ff7020" stroke-width="0"/>
<rect x="287.49" y="514.88" width="4.6" height="4.6" fill="#ff7020" stroke="#ff7020" stroke-width="0"/>
<rect x="301.06" y="596.28" width="4.6" height="4.6" fill="#ff7020" stroke="#ff7020" stroke-width="0"/>
<rect x="314.63" y="551.55" width="4.6" height="4.6" fill="#ff7020" stroke="#ff7020" stroke-width="0"/>
<rect x="328.20" y="532.11" width="4.6" height="4.6" fill="#ff7020" stroke="#ff7020" stroke-width="0"/>
<rect x="341.77" y="540.55" width="4.6" height="4.6" fill="#ff7020" stroke="#ff7020" stroke-width="0"/>
<polyline points="59.10,383.40 72.67,388.60 86.24,402.00 99.81,405.50 113.38,399.70 126.95,397.60 140.52,394.50 154.09,392.40 167.66,394.20 181.23,390.20 194.80,402.80 208.37,407.00 221.94,415.70 235.51,429.20 249.08,432.80 262.65,441.20 276.22,465.80 289.79,481.24 303.36,506.18 316.93,522.68 330.50,500.68 344.07,542.85 357.64,536.61" fill="none" stroke="#0000e6" stroke-width="1.1"/>











<path d="M208.37 403.23V410.94" stroke="#0000e6" stroke-width="1" fill="none"/><path d="M206.87 403.23h3.0M206.87 410.94h3.0" stroke="#0000e6" stroke-width="1" fill="none"/>
<path d="M221.94 411.23V420.41" stroke="#0000e6" stroke-width="1" fill="none"/><path d="M220.44 411.23h3.0M220.44 420.41h3.0" stroke="#0000e6" stroke-width="1" fill="none"/>
<path d="M235.51 423.91V434.83" stroke="#0000e6" stroke-width="1" fill="none"/><path d="M234.01 423.91h3.0M234.01 434.83h3.0" stroke="#0000e6" stroke-width="1" fill="none"/>
<path d="M249.08 426.54V439.55" stroke="#0000e6" stroke-width="1" fill="none"/><path d="M247.58 426.54h3.0M247.58 439.55h3.0" stroke="#0000e6" stroke-width="1" fill="none"/>
<path d="M262.65 433.80V449.29" stroke="#0000e6" stroke-width="1" fill="none"/><path d="M261.15 433.80h3.0M261.15 449.29h3.0" stroke="#0000e6" stroke-width="1" fill="none"/>
<path d="M276.22 456.60V476.08" stroke="#0000e6" stroke-width="1" fill="none"/><path d="M274.72 456.60h3.0M274.72 476.08h3.0" stroke="#0000e6" stroke-width="1" fill="none"/>
<path d="M56.45 385.92L59.10 380.88L61.75 385.92Z" fill="#0000e6" stroke="#0000e6" stroke-width="0.4"/>
<path d="M70.02 391.12L72.67 386.08L75.32 391.12Z" fill="#0000e6" stroke="#0000e6" stroke-width="0.4"/>
<path d="M83.59 404.52L86.24 399.48L88.89 404.52Z" fill="#0000e6" stroke="#0000e6" stroke-width="0.4"/>
<path d="M97.16 408.02L99.81 402.98L102.46 408.02Z" fill="#0000e6" stroke="#0000e6" stroke-width="0.4"/>
<path d="M110.73 402.22L113.38 397.18L116.03 402.22Z" fill="#0000e6" stroke="#0000e6" stroke-width="0.4"/>
<path d="M124.30 400.12L126.95 395.08L129.60 400.12Z" fill="#0000e6" stroke="#0000e6" stroke-width="0.4"/>
<path d="M137.87 397.02L140.52 391.98L143.17 397.02Z" fill="#0000e6" stroke="#0000e6" stroke-width="0.4"/>
<path d="M151.44 394.92L154.09 389.88L156.74 394.92Z" fill="#0000e6" stroke="#0000e6" stroke-width="0.4"/>
<path d="M165.01 396.72L167.66 391.68L170.31 396.72Z" fill="#0000e6" stroke="#0000e6" stroke-width="0.4"/>
<path d="M178.58 392.72L181.23 387.68L183.88 392.72Z" fill="#0000e6" stroke="#0000e6" stroke-width="0.4"/>
<path d="M192.15 405.32L194.80 400.28L197.45 405.32Z" fill="#0000e6" stroke="#0000e6" stroke-width="0.4"/>
<path d="M205.72 409.52L208.37 404.48L211.02 409.52Z" fill="#0000e6" stroke="#0000e6" stroke-width="0.4"/>
<path d="M219.29 418.22L221.94 413.18L224.59 418.22Z" fill="#0000e6" stroke="#0000e6" stroke-width="0.4"/>
<path d="M232.86 431.72L235.51 426.68L238.16 431.72Z" fill="#0000e6" stroke="#0000e6" stroke-width="0.4"/>
<path d="M246.43 435.32L249.08 430.28L251.73 435.32Z" fill="#0000e6" stroke="#0000e6" stroke-width="0.4"/>
<path d="M260.00 443.72L262.65 438.68L265.30 443.72Z" fill="#0000e6" stroke="#0000e6" stroke-width="0.4"/>
<path d="M273.57 468.32L276.22 463.28L278.87 468.32Z" fill="#0000e6" stroke="#0000e6" stroke-width="0.4"/>
<path d="M287.14 483.76L289.79 478.72L292.44 483.76Z" fill="#0000e6" stroke="#0000e6" stroke-width="0.4"/>
<path d="M300.71 508.69L303.36 503.66L306.01 508.69Z" fill="#0000e6" stroke="#0000e6" stroke-width="0.4"/>
<path d="M314.28 525.19L316.93 520.16L319.58 525.19Z" fill="#0000e6" stroke="#0000e6" stroke-width="0.4"/>
<path d="M327.85 503.19L330.50 498.16L333.15 503.19Z" fill="#0000e6" stroke="#0000e6" stroke-width="0.4"/>
<path d="M341.42 545.36L344.07 540.33L346.72 545.36Z" fill="#0000e6" stroke="#0000e6" stroke-width="0.4"/>
<path d="M354.99 539.13L357.64 534.09L360.29 539.13Z" fill="#0000e6" stroke="#0000e6" stroke-width="0.4"/>
</g>
<path d="M45.55 17.55H371.35V477.6H45.55Z M45.55 317.4H371.35" fill="none" stroke="#000" stroke-width="1.35"/>
<rect x="73.50" y="221.20" width="5.8" height="5.8" fill="#000"/>
<line x1="64.0" y1="237.0" x2="88.5" y2="237.0" stroke="#a8163c" stroke-width="1.0"/>
<path d="M73.40 239.85L76.40 234.15L79.40 239.85Z" fill="none" stroke="#a8163c" stroke-width="1.2"/>
<line x1="64.0" y1="249.9" x2="88.5" y2="249.9" stroke="#7b4062" stroke-width="1.0" stroke-dasharray="3.5,2,1,2"/>
<rect x="74.10" y="247.60" width="4.6" height="4.6" fill="none" stroke="#7b4062" stroke-width="1.2"/>
<line x1="64.0" y1="263.4" x2="88.5" y2="263.4" stroke="#ff7020" stroke-width="1.0" stroke-dasharray="3.5,2,1,2"/>
<rect x="74.25" y="261.25" width="4.3" height="4.3" fill="#ff7020" stroke="#ff7020" stroke-width="0"/>
<line x1="64.0" y1="275.9" x2="88.5" y2="275.9" stroke="#0000e6" stroke-width="1.1"/>
<path d="M73.75 278.42L76.40 273.38L79.05 278.42Z" fill="#0000e6" stroke="#0000e6" stroke-width="0.4"/>
<g font-family="Liberation Sans, sans-serif" fill="#000"><text x="51" y="13.7" font-size="12" letter-spacing="0.15">13000 GeV pp</text><text x="364.6" y="13.8" font-size="12" text-anchor="end">Z+Jet</text><text x="81.4" y="41.7" font-size="12">Transmin region, 60 &lt; p</text><text x="206.0" y="36.3" font-size="7.6">Z</text><text x="206.4" y="48.7" font-size="7.6">T</text><text x="214.6" y="41.7" font-size="12" letter-spacing="0.06">&lt; 80 [GeV], high thrust</text><text x="40.3" y="46.9" font-size="11" text-anchor="end">10</text><text x="40.3" y="101.9" font-size="11" text-anchor="end">1</text><text x="21.2" y="158.2" font-size="11.2">10</text><rect x="32.30" y="150.70" width="3.4" height="0.85" fill="#000"/><text x="36.60" y="153.00" font-size="7.6">1</text><text x="19.0" y="213.9" font-size="11.2">10</text><rect x="30.10" y="206.40" width="3.4" height="0.85" fill="#000"/><text x="33.90" y="208.70" font-size="7.6">2</text><text x="19.0" y="269.1" font-size="11.2">10</text><rect x="30.10" y="261.60" width="3.4" height="0.85" fill="#000"/><text x="33.90" y="263.90" font-size="7.6">3</text><text x="38.6" y="340.7" font-size="11" text-anchor="end">2</text><text x="38.6" y="401.8" font-size="11" text-anchor="end">1</text><text x="38.6" y="461.8" font-size="11" text-anchor="end" letter-spacing="0.55">0.5</text><text x="373.5" y="340.7" font-size="11">2</text><text x="373.5" y="401.8" font-size="11">1</text><text x="373.6" y="461.8" font-size="11" letter-spacing="0.55">0.5</text><text x="59.00" y="488.9" font-size="11" text-anchor="middle">0</text><text x="130.10" y="488.9" font-size="11" text-anchor="middle">1</text><text x="201.20" y="488.9" font-size="11" text-anchor="middle">2</text><text x="272.30" y="488.9" font-size="11" text-anchor="middle">3</text><text x="343.40" y="488.9" font-size="11" text-anchor="middle">4</text><text x="318.6" y="502.9" font-size="11.8">N<tspan font-size="7.5" dy="3.5">ch</tspan><tspan dy="-3.5">/dη dϕ</tspan></text><text transform="translate(15.3,131.6) rotate(-90)" font-size="11.5">1/N<tspan font-size="7.5" dy="3">ev</tspan><tspan dy="-3"> dN</tspan><tspan font-size="7.5" dy="3">ev</tspan><tspan dy="-3">/dN</tspan><tspan font-size="7.5" dy="3">ch</tspan><tspan dy="-3">/dη dϕ</tspan></text><text transform="translate(18.7,427.2) rotate(-90)" font-size="9">Ratio to ATLAS</text><text transform="translate(379.7,127.0) rotate(-90)" font-size="9.45" fill="#8c8c8c">Rivet 4.1.0, ≥ 1.9M events</text><text transform="translate(380.8,313.5) rotate(-90)" font-size="9.4" fill="#8c8c8c">mcplots.cern.ch [arXiv:1306.3436]</text><text x="94" y="227.2" font-size="9.4">ATLAS</text><text x="94" y="240.2" font-size="9.4">Pythia 6.428 370</text><text x="94" y="252.8" font-size="9.4">Pythia 6.428 391</text><text x="94" y="265.5" font-size="9.4">Pythia 6.428 default</text><text x="94" y="278.9" font-size="9.4">Pythia 8.315 default</text><text x="207.5" y="301.5" font-size="8" fill="#8c8c8c" text-anchor="middle">(ATLAS_2019_I1736531)</text></g>
</svg>

</body></html>
